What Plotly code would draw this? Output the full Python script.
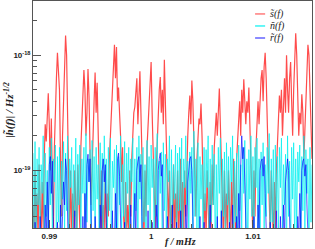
import numpy as np
import plotly.graph_objects as go

# frequency bins (mHz)
f_start = 0.9884
f_step = 0.0001
n_bins = 275
freq = np.round(f_start + f_step * np.arange(n_bins), 6)

# log10 of amplitude spectral density values
s_log = [
    -19.3, -19.6, -19.0, -19.5, -19.2, -19.6, -18.95, -19.4, -19.6, -19.1,
    -19.5, -18.9, -18.6, -18.75, -18.5, -18.33, -18.6, -19.0, -18.55, -19.3,
    -19.6, -18.8, -18.4, -18.2, -17.98, -18.1, -18.3, -18.9, -19.4, -18.7,
    -18.4, -18.3, -17.83, -18.0, -18.6, -19.2, -19.6, -19.0, -19.5, -19.2,
    -19.6, -19.0, -19.4, -19.6, -18.95, -19.3, -19.5, -18.8, -18.6, -18.4,
    -18.13, -18.3, -18.7, -18.5, -18.12, -18.35, -18.8, -19.3, -19.0, -18.6,
    -18.4, -18.15, -18.5, -18.24, -18.6, -19.1, -19.5, -19.0, -19.6, -19.3,
    -19.5, -19.0, -19.6, -19.2, -19.4, -18.9, -18.7, -18.5, -18.3, -18.1,
    -17.91, -18.2, -17.93, -18.4, -18.28, -18.5, -18.7, -19.1, -18.8, -19.4,
    -19.6, -19.1, -19.5, -19.3, -19.6, -19.0, -19.4, -18.9, -18.7, -18.5,
    -18.45, -18.3, -18.2, -18.6, -18.4, -18.14, -18.5, -18.9, -19.3, -19.6,
    -19.0, -19.4, -18.8, -18.6, -18.4, -18.3, -18.06, -18.5, -18.8, -19.2,
    -19.5, -19.0, -18.7, -18.45, -18.3, -18.19, -18.5, -18.3, -18.6, -18.04,
    -18.4, -18.7, -19.2, -19.5, -19.0, -19.6, -19.3, -19.5, -18.95, -19.6,
    -19.2, -19.5, -19.0, -19.6, -19.3, -18.9, -19.5, -19.1, -19.6, -19.0,
    -19.4, -18.9, -18.7, -18.5, -18.35, -18.6, -18.22, -18.4, -18.7, -19.1,
    -19.4, -18.9, -18.7, -18.55, -18.6, -18.42, -18.7, -19.0, -19.5, -19.2,
    -19.6, -19.0, -19.4, -19.6, -19.1, -19.5, -18.95, -19.3, -18.8, -18.6,
    -18.5, -18.7, -18.4, -18.29, -18.6, -18.9, -19.3, -19.6, -19.0, -19.5,
    -19.2, -19.6, -19.0, -19.4, -19.6, -19.1, -19.5, -18.9, -19.3, -19.6,
    -18.9, -18.7, -18.6, -18.4, -18.7, -18.3, -18.5, -18.21, -18.4, -18.6,
    -18.4, -18.5, -18.28, -18.6, -18.9, -19.3, -19.6, -19.0, -19.4, -18.8,
    -18.6, -18.4, -18.6, -18.3, -18.2, -18.13, -18.4, -18.1, -17.98, -18.2,
    -18.5, -18.8, -19.2, -19.6, -19.0, -19.4, -19.6, -19.1, -19.5, -19.0,
    -18.8, -18.6, -18.35, -18.5, -18.3, -18.7, -18.4, -18.2, -18.5, -18.0,
    -18.3, -18.5, -18.2, -18.06, -18.4, -18.7, -18.3, -18.1, -17.81, -18.0,
    -18.4, -18.7, -18.5, -18.6, -18.34, -18.5, -18.9, -18.6, -18.3, -18.1,
    -17.91, -18.0, -18.3, -18.6, -18.9]

n_log = [
    -18.85, -19.5, -18.75, -19.7, -18.9, -19.3, -18.8, -19.8, -18.95, -19.2,
    -18.7, -19.6, -18.85, -19.4, -19.0, -19.75, -18.8, -19.3, -18.72, -19.6,
    -18.9, -19.1, -18.78, -19.7, -18.88, -19.45, -18.8, -19.8, -18.92, -19.25,
    -18.75, -19.55, -18.85, -19.35, -18.7, -19.7, -18.9, -19.15, -18.8, -19.6,
    -18.95, -19.4, -18.72, -19.8, -18.86, -19.3, -18.78, -19.6, -18.9, -19.2,
    -18.8, -19.7, -18.68, -19.45, -18.9, -19.1, -18.82, -19.75, -18.74, -19.35,
    -18.88, -19.55, -18.8, -19.25, -18.95, -19.7, -18.76, -19.4, -18.85, -19.8,
    -18.7, -19.2, -18.9, -19.6, -18.8, -19.35, -18.72, -19.75, -18.92, -19.15,
    -18.82, -19.5, -18.78, -19.8, -18.88, -19.3, -18.7, -19.6, -18.95, -19.4,
    -18.75, -19.7, -18.85, -19.2, -18.8, -19.55, -18.9, -19.1, -18.72, -19.65,
    -18.9, -19.35, -18.8, -19.75, -18.7, -19.25, -18.86, -19.6, -18.8, -19.45,
    -18.95, -19.8, -18.74, -19.3, -18.88, -19.55, -18.78, -19.15, -18.9, -19.7,
    -18.8, -19.4, -18.68, -19.65, -18.92, -19.2, -18.84, -19.8, -18.76, -19.35,
    -18.86, -19.6, -18.9, -19.1, -18.7, -19.75, -18.82, -19.45, -18.95, -19.25,
    -18.78, -19.7, -18.85, -19.35, -18.8, -19.5, -18.72, -19.8, -18.9, -19.15,
    -18.7, -19.3, -18.92, -19.6, -18.84, -19.2, -18.8, -19.7, -18.66, -19.4,
    -18.9, -19.55, -18.76, -19.8, -18.88, -19.25, -18.95, -19.6, -18.8, -19.35,
    -18.82, -19.15, -18.7, -19.7, -18.9, -19.45, -18.78, -19.3, -18.86, -19.75,
    -18.95, -19.5, -18.8, -19.2, -18.72, -19.65, -18.9, -19.4, -18.84, -19.8,
    -18.76, -19.3, -18.88, -19.6, -18.8, -19.1, -18.7, -19.75, -18.92, -19.45,
    -18.85, -19.7, -18.78, -19.35, -18.95, -19.55, -18.8, -19.2, -18.74, -19.6,
    -18.9, -19.8, -18.82, -19.25, -18.7, -19.4, -18.88, -19.65, -18.8, -19.15,
    -18.72, -19.5, -18.9, -19.75, -18.84, -19.3, -18.76, -19.6, -18.95, -19.4,
    -18.8, -19.2, -18.68, -19.7, -18.9, -19.45, -18.82, -19.8, -18.78, -19.35,
    -18.88, -19.6, -18.8, -19.15, -18.72, -19.55, -18.95, -19.3, -18.86, -19.75,
    -18.7, -19.4, -18.92, -19.8, -18.8, -19.25, -18.76, -19.65, -18.9, -19.5,
    -18.84, -19.1, -18.78, -19.7, -18.88, -19.35, -18.7, -19.6, -18.82, -19.2,
    -18.9, -19.75, -18.8, -19.45, -18.95]

r_log = [
    -19.7, -19.8, -19.45, -19.75, -19.8, -19.6, -19.8, -19.4, -19.75, -19.8,
    -19.5, -19.8, -19.3, -19.6, -19.1, -19.5, -18.95, -18.88, -19.2, -18.92,
    -19.4, -19.8, -19.6, -19.8, -19.45, -19.75, -19.8, -19.3, -19.7, -19.4,
    -19.1, -19.3, -18.9, -19.0, -19.4, -19.8, -19.6, -19.8, -19.5, -19.75,
    -19.8, -19.35, -19.8, -19.7, -19.8, -19.5, -19.8, -19.6, -19.8, -19.4,
    -19.8, -19.2, -19.5, -18.95, -18.86, -19.1, -18.9, -19.5, -19.8, -19.6,
    -19.8, -19.4, -19.75, -19.8, -19.5, -19.8, -19.3, -19.6, -19.0, -18.9,
    -19.1, -18.95, -19.45, -19.8, -19.7, -19.8, -19.5, -19.8, -19.35, -19.8,
    -19.6, -19.2, -19.5, -18.9, -18.85, -19.05, -19.4, -19.8, -19.6, -19.8,
    -19.45, -19.8, -19.7, -19.8, -19.55, -19.8, -19.3, -19.75, -19.8, -19.5,
    -19.2, -19.6, -19.0, -18.92, -18.88, -19.1, -18.95, -19.4, -19.8, -19.6,
    -19.8, -19.5, -19.8, -19.35, -19.8, -19.7, -19.8, -19.45, -19.8, -19.6,
    -19.8, -19.3, -19.6, -19.0, -18.9, -18.85, -19.05, -18.95, -19.5, -19.8,
    -19.6, -19.8, -19.4, -19.75, -19.8, -19.55, -19.8, -19.3, -19.8, -19.7,
    -19.8, -19.45, -19.8, -19.6, -19.8, -19.35, -19.8, -19.7, -19.5, -19.8,
    -19.3, -19.6, -19.1, -18.95, -18.9, -18.88, -19.0, -19.4, -19.8, -19.6,
    -19.8, -19.5, -19.8, -19.75, -19.4, -19.8, -19.6, -19.8, -19.45, -19.8,
    -19.7, -19.8, -19.55, -19.8, -19.3, -19.8, -19.6, -19.8, -19.5, -19.75,
    -19.8, -19.4, -19.8, -19.6, -19.8, -19.35, -19.8, -19.7, -19.8, -19.5,
    -19.8, -19.6, -19.8, -19.45, -19.75, -19.8, -19.3, -19.8, -19.6, -19.8,
    -19.4, -19.8, -19.2, -19.5, -18.95, -18.7, -18.9, -18.8, -19.1, -19.4,
    -19.8, -19.6, -19.8, -19.5, -19.8, -19.7, -19.8, -19.4, -19.8, -19.6,
    -19.8, -19.3, -19.5, -19.0, -18.92, -18.9, -19.05, -18.88, -19.2, -19.5,
    -19.8, -19.6, -19.8, -19.45, -19.8, -19.7, -19.8, -19.5, -19.8, -19.35,
    -19.8, -19.6, -19.8, -19.4, -19.75, -19.8, -19.3, -19.6, -19.1, -18.95,
    -18.9, -19.0, -19.4, -19.8, -19.6, -19.8, -19.5, -19.8, -19.7, -19.8,
    -19.4, -19.6, -19.2, -19.5, -19.0, -18.92, -18.9, -19.05, -18.95, -19.3,
    -19.6, -19.8, -19.5, -19.8, -19.7]

x_ticks = [0.99, 1.0, 1.01]
x_tick_labels = ["<b>0.99</b>", "<b>1</b>", "<b>1.01</b>"]
y_ticks = [1e-19, 1e-18]
y_tick_labels = ["<b>10<sup>-19</sup></b>", "<b>10<sup>-18</sup></b>"]
y_minor = [m * 10.0 ** e for e in (-20, -19, -18) for m in range(2, 10)]

names = ["s\u0303(f)", "n\u0303(f)", "r\u0303(f)"]
colors = ["rgba(255,0,0,0.7)", "rgba(0,240,240,0.72)", "rgba(0,0,255,0.65)"]
widths = [1.2, 1.0, 1.0]
legend_colors = ["rgba(255,90,90,0.8)", "rgba(0,240,240,0.8)", "rgba(60,60,255,0.8)"]

fig = go.Figure()
for name, vals, col, w in zip(names, [s_log, n_log, r_log], colors, widths):
    fig.add_trace(go.Scatter(x=freq, y=10.0 ** np.array(vals), mode="lines",
                             name=name, line=dict(color=col, width=w),
                             showlegend=False))

# compact ROOT-style legend
leg_y = [0.943, 0.890, 0.837]
for name, col, yy in zip(names, legend_colors, leg_y):
    fig.add_shape(type="line", xref="paper", yref="paper", x0=0.796, x1=0.832,
                  y0=yy, y1=yy, line=dict(color=col, width=1.5))
    fig.add_annotation(text="<i>" + name + "</i>", xref="paper", yref="paper",
                       x=0.842, y=yy, xanchor="left", yanchor="middle", showarrow=False,
                       font=dict(family="Liberation Serif", size=10, color="#222"))

axis_common = dict(showline=True, linecolor="#555", linewidth=1, mirror=True,
                   ticks="inside", tickcolor="#555", showgrid=False, zeroline=False,
                   automargin=False,
                   tickfont=dict(family="Arial", size=8, color="#222"))

fig.update_layout(
    width=315, height=249,
    margin=dict(l=33, r=3, t=1, b=21, autoexpand=False),
    plot_bgcolor="white", paper_bgcolor="white",
    showlegend=False,
    xaxis=dict(range=[0.9884, 1.0158], tickvals=x_ticks, ticktext=x_tick_labels,
               ticklen=8, minor=dict(ticks="inside", ticklen=4, dtick=0.002,
                                     tick0=0.99, tickcolor="#555"),
               **axis_common),
    yaxis=dict(type="log", range=[-19.50, -17.53], tickvals=y_ticks,
               ticktext=y_tick_labels, ticklen=8,
               minor=dict(ticks="inside", ticklen=4, tickvals=y_minor, tickcolor="#555"),
               **axis_common),
)
fig.add_annotation(text="<b><i>f / mHz</i></b>", xref="paper", yref="paper", x=0.53, y=-0.058,
                   xanchor="center", yanchor="middle", showarrow=False,
                   font=dict(family="Liberation Serif", size=10, color="#222"))
fig.add_annotation(text="<b><i>|h\u0303(f)| / Hz<sup>-1/2</sup></i></b>", xref="paper", yref="paper",
                   x=-0.083, y=0.52, textangle=-90, xanchor="center", yanchor="middle",
                   showarrow=False, font=dict(family="Liberation Serif", size=11, color="#222"))

fig.write_html("out.html", config={"displayModeBar": False},
               post_script="document.body.style.margin='0';")
